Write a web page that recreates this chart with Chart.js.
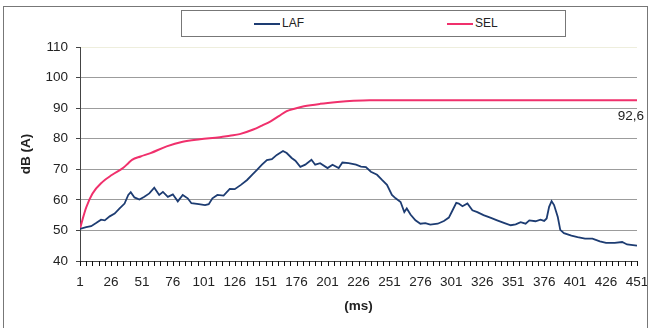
<!DOCTYPE html>
<html lang="en">
<head>
  <meta charset="UTF-8">
  <title>LAF / SEL</title>
  <script src="https://cdn.jsdelivr.net/npm/chart.js@4.4.1/dist/chart.umd.min.js"></script>
  <style>
    html, body { margin: 0; padding: 0; background: #fff; }
    .chart-wrap { position: relative; width: 667px; height: 328px; overflow: hidden; font-family: "Liberation Sans", Arial, sans-serif; }
    .chart-wrap canvas { position: absolute; left: 0; top: 0; }
    .frame { position: absolute; left: 3px; top: 6px; width: 643px; height: 340px; border: 1px solid #777; pointer-events: none; }
    .legend { position: absolute; left: 181px; top: 10px; width: 383px; height: 25px; border: 1px solid #777; background: #fff; }
    .legend .item { position: absolute; top: 0; height: 25px; line-height: 25px; font-size: 12px; color: #222; }
    .legend .swatch { display: inline-block; width: 26px; height: 2px; vertical-align: middle; margin-right: 2px; }
  </style>
</head>
<body>
  <div class="chart-wrap">
    <canvas id="chart_laf_sel" width="667" height="328"></canvas>
    <div class="frame"></div>
    <div class="legend" id="js-legend"></div>
  </div>

  <script>
    // x axis: time in ms (categories 1..451), labels every 25, tick marks every 5
    var msMin = 1, msMax = 451, labelStep = 25, markStep = 5;
    var yTicks = [40, 50, 60, 70, 80, 90, 100, 110];

    // LAF
    var lafMs = [1, 6, 10, 14, 18, 21, 25, 29, 33, 37, 40, 42, 45, 49, 53, 57, 61, 65, 68, 72,
      76, 80, 84, 88, 91, 97, 102, 105, 108, 112, 117, 122, 126, 131, 136, 140, 144, 148, 152, 156,
      160, 165, 168, 172, 175, 179, 183, 188, 191, 195, 201, 205, 210, 213, 218, 224, 228, 232, 236, 241,
      245, 249, 253, 256, 260, 263, 265, 268, 272, 276, 280, 284, 290, 295, 299, 302, 305, 307, 310, 314,
      318, 322, 327, 333, 338, 344, 349, 353, 357, 361, 364, 369, 373, 376, 378, 380, 382, 384, 387, 389,
      392, 398, 403, 409, 415, 421, 426, 433, 439, 443, 451];
    var lafDb = [50.5, 51.1, 51.4, 52.4, 53.5, 53.3, 54.6, 55.5, 57.2, 58.8, 61.6, 62.5, 60.8, 60.1, 61.0, 62.1, 64.0, 61.6, 62.6, 61.0,
      61.8, 59.5, 61.6, 60.5, 58.9, 58.6, 58.3, 58.6, 60.5, 61.6, 61.4, 63.6, 63.5, 64.9, 66.5, 68.2, 69.8, 71.5, 73.0, 73.3,
      74.7, 76.0, 75.3, 73.7, 72.8, 70.8, 71.5, 73.1, 71.5, 72.0, 70.4, 71.5, 70.4, 72.2, 72.0, 71.5, 70.9, 70.7, 69.2, 68.2,
      66.5, 64.9, 61.6, 60.5, 59.3, 56.0, 57.2, 55.2, 53.3, 52.2, 52.4, 51.9, 52.2, 53.1, 54.2, 56.6, 59.0, 58.8, 57.9, 58.8,
      56.6, 56.0, 55.0, 54.1, 53.3, 52.4, 51.7, 52.0, 52.7, 52.2, 53.3, 53.0, 53.5, 53.1, 53.9, 57.7, 59.6, 58.3, 54.4, 50.2,
      49.1, 48.3, 47.8, 47.3, 47.3, 46.4, 45.9, 45.9, 46.2, 45.4, 45.0];

    // SEL
    var selMs = [1, 3, 6, 11, 19, 27, 36, 40, 43, 50, 58, 71, 84, 98, 114, 122, 130, 141, 148, 155,
      162, 168, 175, 182, 195, 209, 222, 235, 250, 451];
    var selDb = [50.5, 53.5, 57.5, 62.0, 65.8, 68.2, 70.5, 72.0, 73.1, 74.2, 75.3, 77.5, 79.0, 79.8, 80.5, 81.0, 81.5, 83.0, 84.3, 85.7,
      87.5, 89.0, 89.9, 90.6, 91.4, 92.0, 92.4, 92.6, 92.6, 92.6];

    var seriesNames = ['LAF', 'SEL'];
    var seriesColors = ['#1d3c72', '#f0306c'];

    function toPoints(xs, ys) {
      return xs.map(function (x, i) { return { x: x, y: ys[i] }; });
    }

    var fontFamily = '"Liberation Sans", Arial, sans-serif';

    // last SEL value written under the end of the line ("92,6")
    var endLabel = {
      id: 'endLabel',
      afterDatasetsDraw: function (chart) {
        var meta = chart.getDatasetMeta(1);
        var last = meta.data[meta.data.length - 1];
        var v = selDb[selDb.length - 1];
        var c = chart.ctx;
        c.save();
        c.font = '13.5px ' + fontFamily;
        c.fillStyle = '#222';
        c.textAlign = 'right';
        c.textBaseline = 'middle';
        c.fillText(String(v).replace('.', ','), last.x + 7, last.y + 16.5);
        c.restore();
      }
    };

    // excel style comb of small tick marks under the category axis
    var minorTicks = {
      id: 'minorTicks',
      afterDraw: function (chart) {
        var sx = chart.scales.x;
        var y0 = chart.chartArea.bottom;
        var c = chart.ctx;
        c.save();
        c.fillStyle = '#111';
        for (var v = msMin; v <= msMax; v += markStep) {
          var px = Math.round(sx.getPixelForValue(v));
          c.fillRect(px, y0, 1, 5);
        }
        c.restore();
      }
    };

    var ctx = document.getElementById('chart_laf_sel').getContext('2d');
    var chart = new Chart(ctx, {
      type: 'line',
      data: {
        datasets: [
          { label: seriesNames[0], data: toPoints(lafMs, lafDb), borderColor: seriesColors[0], borderWidth: 1.8, pointRadius: 0, tension: 0 },
          { label: seriesNames[1], data: toPoints(selMs, selDb), borderColor: seriesColors[1], borderWidth: 2, pointRadius: 0, cubicInterpolationMode: 'monotone' }
        ]
      },
      options: {
        responsive: false,
        animation: false,
        layout: { padding: { top: 47, right: 30, bottom: 10, left: 0 } },
        plugins: { legend: { display: false }, tooltip: { enabled: false } },
        scales: {
          x: {
            type: 'linear', min: msMin, max: msMax,
            afterBuildTicks: function (scale) {
              var t = [];
              for (var v = msMin; v <= msMax; v += labelStep) t.push({ value: v });
              scale.ticks = t;
            },
            afterFit: function (scale) { scale.height = 57; },
            grid: { drawOnChartArea: false, drawTicks: false, tickLength: 5 },
            border: { display: true, color: '#444', width: 1 },
            ticks: {
              autoSkip: false, maxRotation: 0, padding: 13, color: '#222',
              font: { family: fontFamily, size: 13.5 }
            },
            title: { display: true, text: '(ms)', color: '#222', font: { family: fontFamily, size: 13.5, weight: 'bold' }, padding: { top: 4, bottom: 4 } }
          },
          y: {
            min: yTicks[0], max: yTicks[yTicks.length - 1],
            afterBuildTicks: function (scale) { scale.ticks = yTicks.map(function (v) { return { value: v }; }); },
            afterFit: function (scale) { scale.width = 80; },
            grid: {
              tickLength: 4, tickColor: '#444', lineWidth: 1,
              color: function (c) {
                if (c.tick.value === 40) return 'rgba(0,0,0,0)';
                if (c.tick.value === 110) return '#eeeedd';
                return '#9c9c9c';
              }
            },
            border: { display: true, color: '#444', width: 1 },
            ticks: { padding: 8, color: '#222', font: { family: fontFamily, size: 13.5 } },
            title: { display: true, text: 'dB (A)', color: '#222', font: { family: fontFamily, size: 13.5, weight: 'bold' }, padding: { top: 18, bottom: 0 } }
          }
        }
      },
      plugins: [endLabel, minorTicks]
    });

    // html legend in its own box
    var legendEl = document.getElementById('js-legend');
    var itemLeft = [72, 265];
    chart.data.datasets.forEach(function (ds, i) {
      var item = document.createElement('div');
      item.className = 'item';
      item.style.left = itemLeft[i] + 'px';
      item.innerHTML = '<span class="swatch" style="background:' + ds.borderColor + '"></span>' + ds.label;
      legendEl.appendChild(item);
    });
  </script>
</body>
</html>
